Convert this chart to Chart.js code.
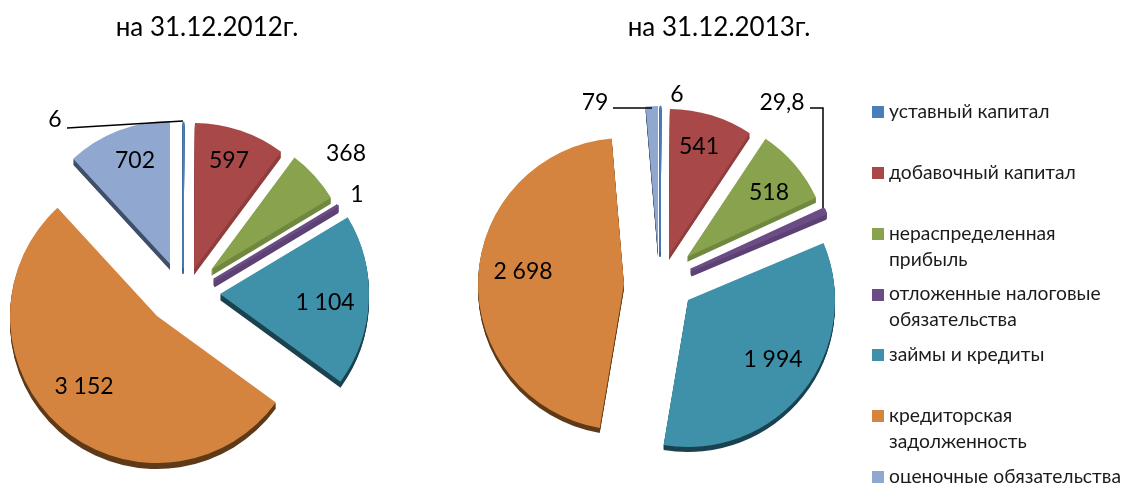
<!DOCTYPE html>
<html lang="ru">
<head>
<meta charset="utf-8">
<title>Структура пассивов</title>
<script src="https://cdn.jsdelivr.net/npm/chart.js@4"></script>
<style>
  html,body{margin:0;padding:0;background:#fff;width:1126px;height:483px;overflow:hidden}
  canvas{position:absolute;top:0}
  #c2012{left:0}
  #c2013{left:430px}
  .lg{position:absolute;left:889px;font:19.3px/26px Lato,"Noto Sans",sans-serif;color:#1b1b1b;white-space:pre-line}
  .sw{position:absolute;left:872px;width:12px;height:12px}
</style>
</head>
<body>
<canvas id="c2012" width="414" height="483"></canvas>
<canvas id="c2013" width="578" height="483"></canvas>
<div id="legend"></div>
<script>
// ---- data ----
const categories = ["уставный капитал","добавочный капитал","нераспределенная прибыль","отложенные налоговые обязательства","займы и кредиты","кредиторская задолженность","оценочные обязательства"];
const legendText = ["уставный капитал","добавочный капитал","нераспределенная\nприбыль","отложенные налоговые\nобязательства","займы и кредиты","кредиторская\nзадолженность","оценочные обязательства"];
const values2012 = [6,597,368,1,1104,3152,702];
const values2013 = [6,541,518,29.8,1994,2698,79];
const title2012 = "на 31.12.2012г.";
const title2013 = "на 31.12.2013г.";

// ---- style ----
const faceColors = ["#4a7ebb","#a84848","#88a24e","#6b4c85","#3f91a9","#d5843f","#90a8cf"];
const sideColors = ["#3a6391","#8f3d3d","#71883f","#5d4274","#1b4250","#5f3b19","#3f4f69"];
const FONT = 'Lato,"Noto Sans",sans-serif';
const RADIUS = 148;

// ---- layout (page pixels): where each exploded slice's apex sits, slice radii, label centres, leader lines ----
const layout2012 = {
  left:0, depth:6, borders:[1,0,0,3,0,0,0], radii:[146,146,140,144,149,147,143],
  apexX:[183,194,211,214,220,157,170], apexY:[268,269,270,280,294,316,264],
  labelX:[55,229,346,357,325,84,135], labelY:[120,161,154,195,303,387,161],
  leaders:[[[67,128],[183,121]]]
};
const layout2013 = {
  left:430, depth:5, borders:[1,0,0,3,0,0,0], radii:[146,146,142,146,147,146,146],
  apexX:[660,669,687,691,688,624,658], apexY:[252,255,257,270,300,284,252],
  labelX:[677,699,769,782,773,523,595], labelY:[95,147,193,103,360,272,103],
  leaders:[[[613,108],[652,108]],[[810,108],[823,108],[823,208]]]
};
const legendSwatchY = [106,167,228,289,349,410,471];
const legendTextY = [98,159,220,280,341,402,463];

const fmt = v => {
  const [i,d] = String(v).split(".");
  return i.replace(/\B(?=(\d{3})+$)/g," ") + (d ? "," + d : "");
};

const exploded3D = {
  id:"exploded3D",
  beforeDatasetsDraw(chart){
    const lay = chart.options.plugins.exploded3D.layout;
    const arcs = chart.getDatasetMeta(0).data;
    const ctx = chart.ctx;
    const at = (arc,i,dy,fn)=>{
      ctx.save();
      ctx.translate(lay.apexX[i]-lay.left-arc.x, lay.apexY[i]+dy-arc.y);
      fn(); ctx.restore();
    };
    arcs.forEach((arc,i)=>{
      arc.outerRadius = lay.radii[i];
      const face = arc.options;
      arc.options = Object.assign(Object.create(face),{backgroundColor:sideColors[i],borderColor:sideColors[i]});
      for(let k=lay.depth;k>=1;k--) at(arc,i,k,()=>arc.draw(ctx));
      arc.options = face;
    });
    arcs.forEach((arc,i)=>at(arc,i,0,()=>arc.draw(ctx)));
    return false;
  },
  afterDraw(chart){
    const lay = chart.options.plugins.exploded3D.layout;
    const values = chart.data.datasets[0].data;
    const ctx = chart.ctx;
    ctx.save();
    ctx.strokeStyle="#000"; ctx.lineWidth=1.5;
    lay.leaders.forEach(pts=>{
      ctx.beginPath();
      pts.forEach(([x,y],j)=> j? ctx.lineTo(x-lay.left,y):ctx.moveTo(x-lay.left,y));
      ctx.stroke();
    });
    ctx.fillStyle="#000"; ctx.font="23px "+FONT; ctx.textAlign="center"; ctx.textBaseline="middle";
    values.forEach((v,i)=>ctx.fillText(fmt(v),lay.labelX[i]-lay.left,lay.labelY[i]));
    ctx.restore();
  }
};

function makePie(id,values,title,lay){
  return new Chart(document.getElementById(id),{
    type:"pie",
    data:{labels:categories,datasets:[{
      data:values,radius:RADIUS,backgroundColor:faceColors,borderColor:faceColors,
      borderWidth:lay.borders,hoverOffset:0
    }]},
    options:{
      responsive:false,animation:false,
      layout:{padding:0},
      plugins:{
        legend:{display:false},tooltip:{enabled:false},
        title:{display:true,text:title,color:"#000",font:{family:FONT,size:26,weight:"normal"},padding:{top:12,bottom:0}},
        exploded3D:{layout:lay}
      }
    },
    plugins:[exploded3D]
  });
}
makePie("c2012",values2012,title2012,layout2012);
makePie("c2013",values2013,title2013,layout2013);

const lg = document.getElementById("legend");
legendText.forEach((t,i)=>{
  const s=document.createElement("div"); s.className="sw"; s.style.top=legendSwatchY[i]+"px"; s.style.background=faceColors[i]; lg.appendChild(s);
  const d=document.createElement("div"); d.className="lg"; d.style.top=legendTextY[i]+"px"; d.textContent=t; lg.appendChild(d);
});
</script>
</body>
</html>
